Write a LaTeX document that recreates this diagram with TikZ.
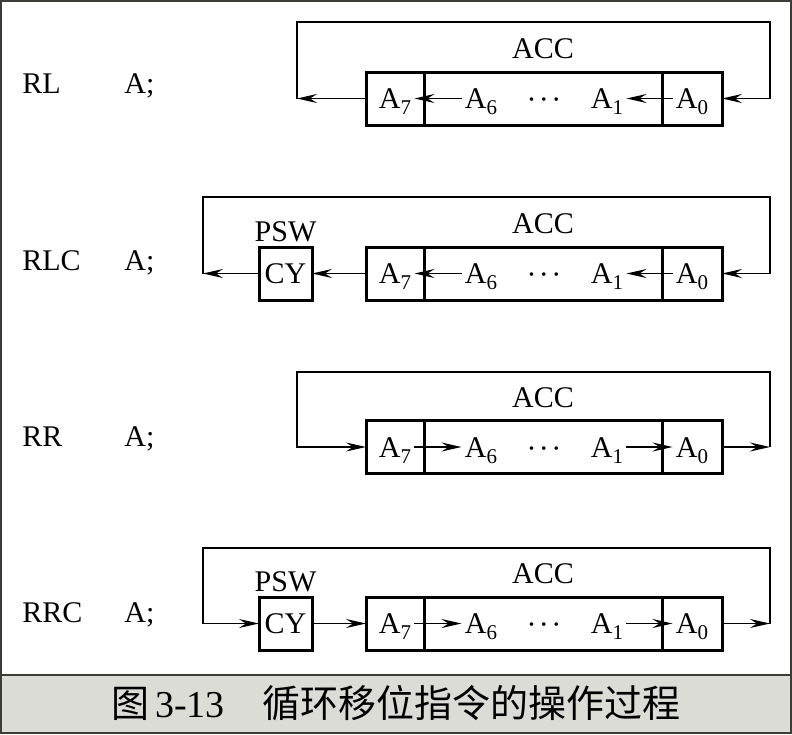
\documentclass[tikz,border=0pt]{standalone}
\usepackage{fontspec}
\setmainfont{Liberation Serif}
\newfontfamily\cjk{Noto Sans CJK SC}
\usetikzlibrary{positioning,arrows.meta}

\definecolor{capgray}{RGB}{220,220,215}
\definecolor{framegray}{RGB}{60,60,55}
\newcommand{\bitsub}[1]{\raisebox{-3pt}{\fontsize{10.5}{12}\selectfont #1}}
\newcommand{\regdots}{\raisebox{-0.5pt}{\textperiodcentered\kern1.2pt\textperiodcentered\kern1.2pt\textperiodcentered}}

\tikzset{
  regfont/.style={font=\fontsize{15}{18}\selectfont, text height=10pt, text depth=0pt},
  cell/.style={draw, regfont, line width=1.5pt, outer sep=0pt, inner sep=0pt, minimum height=26.5pt},
  txt/.style={regfont, inner sep=1.5pt},
  lbl/.style={txt, anchor=west},
  arr/.style={-{Stealth[length=10pt,width=4.5pt,inset=3.5pt]}, line width=0.85pt}
}

\begin{document}
\begin{tikzpicture}[x=0.5pt,y=-0.5pt]
    \useasboundingbox (0,0) rectangle (792,734);
    \fill[capgray] (0,675) rectangle (792,734);
    \draw[framegray, line width=0.8pt] (0,675) -- (792,675);
    \draw[framegray, line width=1pt] (1,1) rectangle (791,733);
    \node[font=\fontsize{19}{23}\selectfont] (cap) at (396,703) {{\cjk 图}\,3-13\hspace{19pt}{\cjk 循环移位指令的操作过程}};

    % RL A;
    \node[lbl] (rlop) at (19,83) {RL};
    \node[lbl] (rlarg) at (121,83) {A;};
    \node[cell, minimum width=29pt] (rla7) at (395,98.5) {};
    \node[cell, minimum width=119pt, right=0pt of rla7] (rlmid) {};
    \node[cell, minimum width=30pt, right=0pt of rlmid] (rla0) {};
    \node[txt, above=5pt of rlmid] (rlacc) {ACC};
    \node[txt] (rlt7) at (rla7) {A\bitsub{7}};
    \node[txt] (rlt6) at (481,98.5) {A\bitsub{6}};
    \node[txt] (rldots) at (544,98.5) {\regdots};
    \node[txt] (rlt1) at (607,98.5) {A\bitsub{1}};
    \node[txt] (rlt0) at (rla0) {A\bitsub{0}};
    \coordinate (rlL) at (297,98.5);
    \coordinate (rlT) at (530,22);
    \coordinate (rlR) at (770,98.5);
    \draw[arr] (rlt6.west) -- (rlt7.east);
    \draw[arr] (rlt0.west) -- (rlt1.east);
    \draw[arr] (rla7.west) -- (rlL);
    \draw[arr] (rlL) |- (rlT) -| (rlR) -- (rla0.east);

    % RLC A;
    \node[lbl] (rlcop) at (19,260) {RLC};
    \node[lbl] (rlcarg) at (121,260) {A;};
    \node[cell, minimum width=26.5pt] (rlccy) at (285.5,273.5) {CY};
    \node[txt, above=1pt of rlccy] (rlcpsw) {PSW};
    \node[cell, minimum width=29pt] (rlca7) at (395,273.5) {};
    \node[cell, minimum width=119pt, right=0pt of rlca7] (rlcmid) {};
    \node[cell, minimum width=30pt, right=0pt of rlcmid] (rlca0) {};
    \node[txt, above=5pt of rlcmid] (rlcacc) {ACC};
    \node[txt] (rlct7) at (rlca7) {A\bitsub{7}};
    \node[txt] (rlct6) at (481,273.5) {A\bitsub{6}};
    \node[txt] (rlcdots) at (544,273.5) {\regdots};
    \node[txt] (rlct1) at (607,273.5) {A\bitsub{1}};
    \node[txt] (rlct0) at (rlca0) {A\bitsub{0}};
    \coordinate (rlcL) at (203,273.5);
    \coordinate (rlcT) at (480,197);
    \coordinate (rlcR) at (770,273.5);
    \draw[arr] (rlct6.west) -- (rlct7.east);
    \draw[arr] (rlct0.west) -- (rlct1.east);
    \draw[arr] (rlca7.west) -- (rlccy.east);
    \draw[arr] (rlccy.west) -- (rlcL);
    \draw[arr] (rlcL) |- (rlcT) -| (rlcR) -- (rlca0.east);

    % RR A;
    \node[lbl] (rrop) at (19,436) {RR};
    \node[lbl] (rrarg) at (121,436) {A;};
    \node[cell, minimum width=29pt] (rra7) at (395,447) {};
    \node[cell, minimum width=119pt, right=0pt of rra7] (rrmid) {};
    \node[cell, minimum width=30pt, right=0pt of rrmid] (rra0) {};
    \node[txt, above=5pt of rrmid] (rracc) {ACC};
    \node[txt] (rrt7) at (rra7) {A\bitsub{7}};
    \node[txt] (rrt6) at (481,447) {A\bitsub{6}};
    \node[txt] (rrdots) at (544,447) {\regdots};
    \node[txt] (rrt1) at (607,447) {A\bitsub{1}};
    \node[txt] (rrt0) at (rra0) {A\bitsub{0}};
    \coordinate (rrL) at (297,447);
    \coordinate (rrT) at (530,372);
    \coordinate (rrR) at (770,447);
    \draw[arr] (rrt7.east) -- (rrt6.west);
    \draw[arr] (rrt1.east) -- (rrt0.west);
    \draw[arr] (rra0.east) -- (rrR);
    \draw[arr] (rrR) |- (rrT) -| (rrL) -- (rra7.west);

    % RRC A;
    \node[lbl] (rrcop) at (19,612) {RRC};
    \node[lbl] (rrcarg) at (121,612) {A;};
    \node[cell, minimum width=26.5pt] (rrccy) at (285.5,623.5) {CY};
    \node[txt, above=1pt of rrccy] (rrcpsw) {PSW};
    \node[cell, minimum width=29pt] (rrca7) at (395,623.5) {};
    \node[cell, minimum width=119pt, right=0pt of rrca7] (rrcmid) {};
    \node[cell, minimum width=30pt, right=0pt of rrcmid] (rrca0) {};
    \node[txt, above=5pt of rrcmid] (rrcacc) {ACC};
    \node[txt] (rrct7) at (rrca7) {A\bitsub{7}};
    \node[txt] (rrct6) at (481,623.5) {A\bitsub{6}};
    \node[txt] (rrcdots) at (544,623.5) {\regdots};
    \node[txt] (rrct1) at (607,623.5) {A\bitsub{1}};
    \node[txt] (rrct0) at (rrca0) {A\bitsub{0}};
    \coordinate (rrcL) at (203,623.5);
    \coordinate (rrcT) at (480,548);
    \coordinate (rrcR) at (770,623.5);
    \draw[arr] (rrct7.east) -- (rrct6.west);
    \draw[arr] (rrct1.east) -- (rrct0.west);
    \draw[arr] (rrccy.east) -- (rrca7.west);
    \draw[arr] (rrca0.east) -- (rrcR);
    \draw[arr] (rrcR) |- (rrcT) -| (rrcL) -- (rrccy.west);
\end{tikzpicture}
\end{document}
